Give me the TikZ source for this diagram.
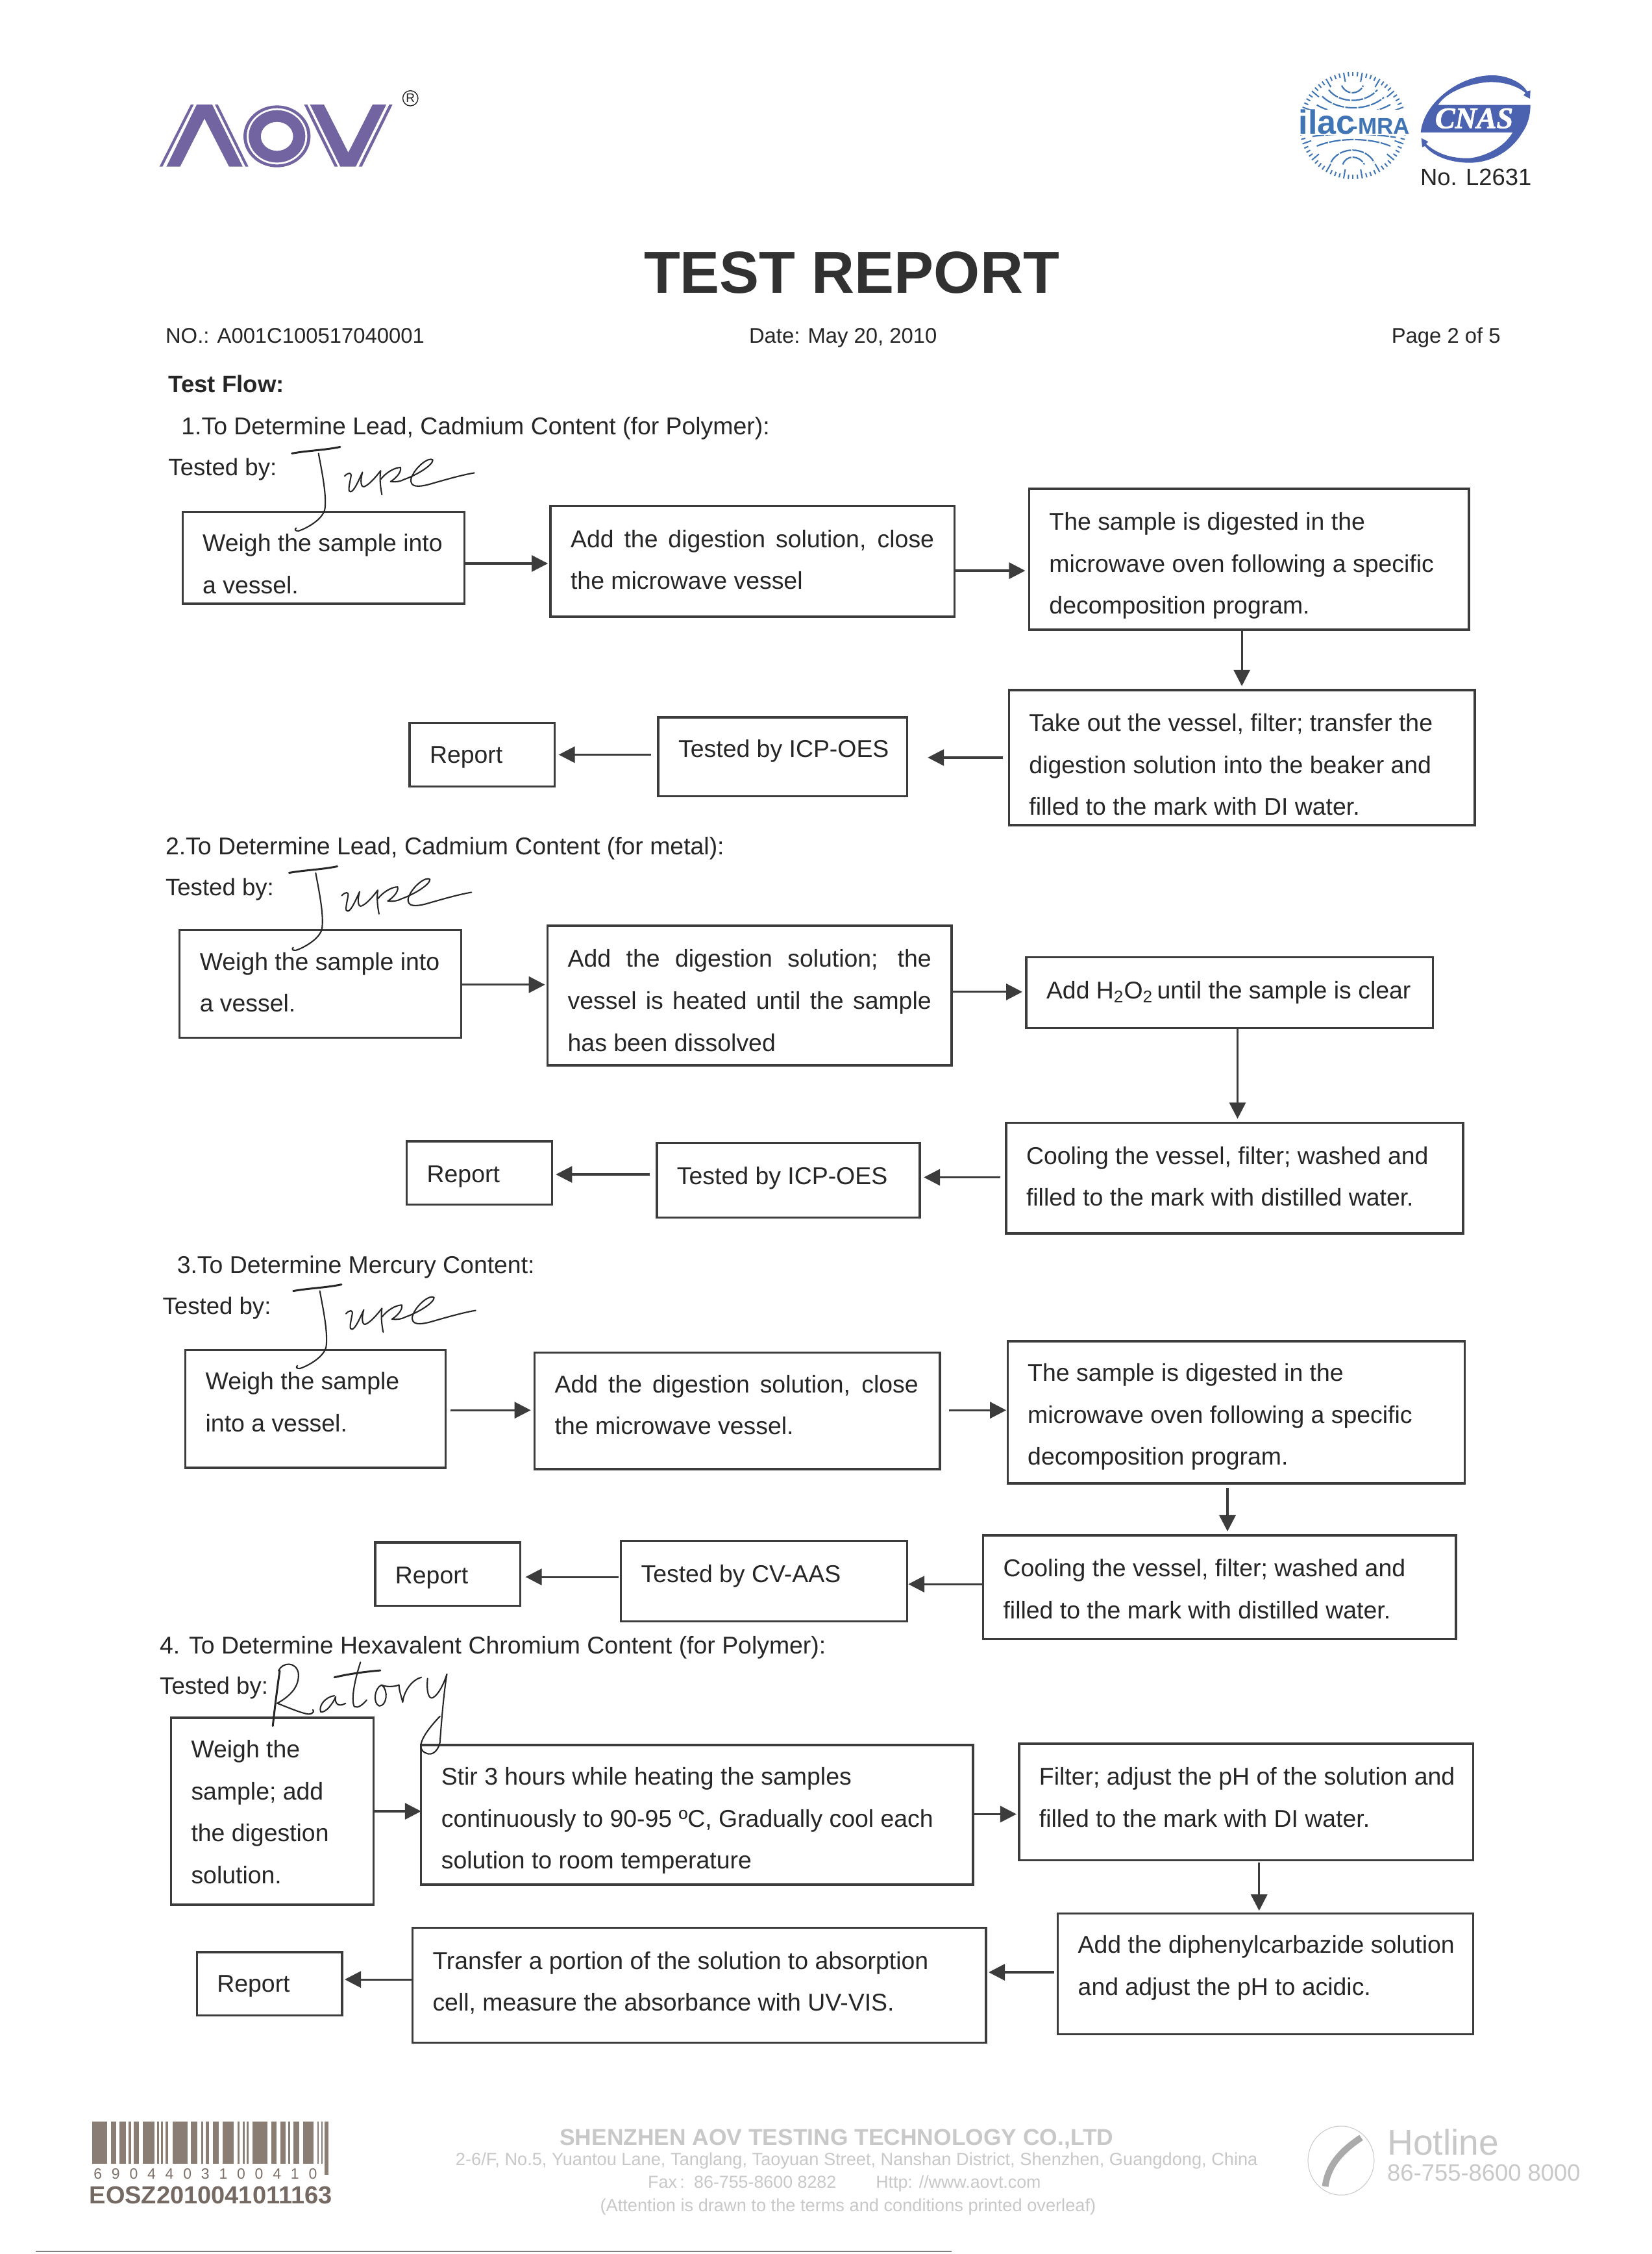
\documentclass[tikz,border=0pt]{standalone}
\usepackage{fontspec}
\setmainfont{Liberation Sans}
\newfontfamily\serifbi{Liberation Serif}[BoldItalicFeatures={FakeBold=1.6}]
\usetikzlibrary{arrows.meta}
\definecolor{ink}{HTML}{262626}
\definecolor{line}{HTML}{3C3C3C}
\definecolor{logop}{HTML}{7264A0}
\definecolor{ilacb}{HTML}{3F74B5}
\definecolor{cnasb}{HTML}{4A62B0}
\definecolor{foot}{HTML}{C8C8C8}
\definecolor{barc}{HTML}{8A7D74}
\newcommand\fsz[1]{\fontsize{#1}{#1}\selectfont}
\tikzset{
  x=1.107pt,y=-1.107pt,
  flow/.style={draw=line,line width=1.7pt,inner sep=0pt,outer sep=0pt,text=ink,font=\fsz{18.7},anchor=north west},
  arr/.style={draw=line,line width=1.6pt,-{Triangle[length=12.5pt,width=12.5pt]}},
  lbl/.style={anchor=base west,inner sep=0pt,text=ink,font=\fsz{18.7}},
  head/.style={anchor=base west,inner sep=0pt,text=ink,font=\fsz{16.4}},
  ftxt/.style={anchor=base,inner sep=0pt,text=foot},
  ink line/.style={draw=ink,line width=1.05pt,line cap=round,line join=round},
  zoomB/.style={x=.19133pt,y=-.16667pt},
  zoomC/.style={x=.16667pt,y=-.16667pt},
}
% name x0 y0 x1 y1 firstlinecentre text
\newcommand\flowbox[7]{%
  \pgfmathsetlengthmacro\bw{(#4-#2)*1.107pt}%
  \pgfmathsetlengthmacro\bh{(#5-#3)*1.107pt}%
  \pgfmathsetlengthmacro\boff{(#6+5.8-#3)*1.107pt-14pt}%
  \node[flow] (#1) at (#2,#3) {\parbox[c][\bh][t]{\bw}{\raggedright\leftskip=15.5pt\baselineskip=32.3pt\parindent=0pt\vspace*{\boff}\leavevmode\rule{0pt}{14pt}#7}};%
}
\newcommand\sgn[2]{%
  \begin{scope}[xshift=#1,yshift=#2,zoomB]
    \draw[ink line,line width=1.5pt] (548,85) .. controls (610,72) and (680,70) .. (742,55);
    \draw[ink line] (655,85) .. controls (665,150) and (690,280) .. (680,345) .. controls (670,390) and (610,430) .. (575,443) .. controls (560,445) and (558,435) .. (565,430);
    \draw[ink line] (760,190) .. controls (775,172) and (790,170) .. (785,195) .. controls (778,235) and (772,265) .. (785,262) .. controls (800,258) and (820,200) .. (832,172) .. controls (822,210) and (825,245) .. (840,238) .. controls (860,228) and (885,195) .. (905,165) .. controls (900,205) and (905,245) .. (910,275);
    \draw[ink line] (905,205) .. controls (925,175) and (960,150) .. (985,150) .. controls (990,175) and (960,205) .. (945,215) .. controls (965,218) and (985,215) .. (1000,205) .. controls (1050,185) and (1115,140) .. (1115,115) .. controls (1100,100) and (1045,145) .. (1028,200) .. controls (1020,245) and (1060,240) .. (1100,228) .. controls (1170,205) and (1230,185) .. (1282,175);
  \end{scope}%
}
\begin{document}
\begin{tikzpicture}
\useasboundingbox[fill=white] (0,0) rectangle (1149,1568);

% AOV logo
\begin{scope}[xshift=75pt,yshift=-40pt,zoomB]
  \fill[logop] (250,530)--(262,530)--(388,243)--(376,243)--cycle;
  \fill[logop] (278,530)--(333,530)--(431,308)--(530,530)--(585,530)--(462,243)--(400,243)--cycle;
  \fill[logop] (473,243)--(485,243)--(608,530)--(596,530)--cycle;
  \fill[logop,even odd rule] (723,390) ellipse [x radius=135,y radius=143] (723,390) ellipse [x radius=122,y radius=130];
  \fill[logop,even odd rule] (723,390) ellipse [x radius=114,y radius=121] (723,390) ellipse [x radius=65,y radius=67];
  \fill[logop] (832,243)--(845,243)--(968,530)--(955,530)--cycle;
  \fill[logop] (856,243)--(912,243)--(1010,465)--(1108,243)--(1163,243)--(1040,530)--(978,530)--cycle;
  \fill[logop] (1175,243)--(1188,243)--(1065,530)--(1052,530)--cycle;
  \node[draw=ink,circle,line width=.7pt,inner sep=.8pt,text=ink,font=\fsz{9.5}] (regmark) at (1260,214) {R};
\end{scope}

% ilac-MRA and CNAS
\begin{scope}[xshift=950pt,yshift=-40pt,zoomC]
  \foreach \a in {0,5,...,355}{\draw[ilacb,line width=1pt] (552,340)++(\a:228) -- ++(\a:20);}
  \foreach \a in {0,20,...,340}{\draw[ilacb,line width=1pt] (552,340)++(\a:205) -- ++(\a:25);}
  \begin{scope}[ilacb,line width=1.1pt,dash pattern=on 9pt off 1pt]
    \draw (500,155) .. controls (520,200) and (580,200) .. (600,155);
    \draw (440,175) .. controls (490,240) and (610,240) .. (665,175);
    \draw (410,205) .. controls (480,275) and (620,275) .. (695,210);
    \draw (385,245) .. controls (480,300) and (630,300) .. (730,240);
    \draw (505,520) .. controls (520,475) and (580,475) .. (605,520);
    \draw (450,510) .. controls (490,435) and (610,435) .. (650,510);
    \draw (385,435) .. controls (480,395) and (630,395) .. (725,435);
    \draw (365,390) .. controls (480,375) and (630,375) .. (750,395);
  \end{scope}
  \fill[white] (300,268) rectangle (805,385);
  \node[anchor=base west,inner sep=0pt,text=ilacb,font=\fsz{26}\bfseries] (ilactxt) at (300,380) {ilac};
  \node[anchor=base west,inner sep=0pt,text=ilacb,font=\fsz{17.5}\bfseries] (mratxt) at (540,380) {-MRA};
  \fill[cnasb] (865,372) .. controls (880,230) and (1050,105) .. (1200,108) .. controls (1280,110) and (1340,150) .. (1356,182) -- (1372,178) -- (1370,216) -- (1340,200) -- (1350,190) .. controls (1310,155) and (1240,135) .. (1170,140) .. controls (1070,150) and (980,190) .. (945,245) -- (1372,245) .. controls (1372,300) and (1355,345) .. (1335,372) -- cycle;
  \fill[cnasb] (1290,372) -- (1335,372) .. controls (1290,450) and (1200,512) .. (1090,512) .. controls (1000,512) and (920,480) .. (885,435) -- (872,440) -- (868,398) -- (900,415) -- (890,425) .. controls (950,480) and (1030,495) .. (1100,490) .. controls (1190,475) and (1260,425) .. (1290,372) -- cycle;
  \node[anchor=base,inner sep=0pt,text=white,font=\serifbi\fsz{23}\bfseries\itshape] (cnastxt) at (1112,352) {CNAS};
  \node[anchor=base west,inner sep=0pt,text=ink,font=\fsz{18.2}] (cnasno) at (862,615) {No. L2631};
\end{scope}

% headings
\node[anchor=base,inner sep=0pt,text=ink!95,font=\fsz{45.7}\bfseries] (title) at (592.5,204) {TEST REPORT};
\node[head] (reportno) at (115,238.5) {NO.: A001C100517040001};
\node[head] (reportdate) at (521,238.5) {Date: May 20, 2010};
\node[head] (reportpage) at (968,238.5) {Page 2 of 5};
\node[lbl,font=\fsz{18.3}\bfseries] (flowtitle) at (117,273) {Test Flow:};

% section 1
\node[lbl] (s1) at (126,302.5) {1.To Determine Lead, Cadmium Content (for Polymer):};
\node[lbl,font=\fsz{18.3}] (t1) at (117,331) {Tested by:};
\flowbox{a1}{127}{356}{323}{420}{378}{Weigh the sample into\\a vessel.}
\flowbox{a2}{383}{352}{664}{429}{375}{\makebox[280pt][s]{Add the digestion solution, close}\\the microwave vessel}
\flowbox{a3}{716}{340}{1022}{438}{363}{The sample is digested in the\\microwave oven following a specific\\decomposition program.}
\flowbox{a4}{702}{480}{1026}{574}{503}{Take out the vessel, filter; transfer the\\digestion solution into the beaker and\\filled to the mark with DI water.}
\flowbox{a5}{458}{499}{631}{554}{521}{Tested by ICP-OES}
\flowbox{a6}{285}{503}{386}{547}{525}{Report}
\draw[arr,shorten >=2pt] (a1.east |- 0,392) -- (a2.west |- 0,392);
\draw[arr,shorten >=3pt] (a2.east |- 0,397) -- (a3.west |- 0,397);
\draw[arr,shorten >=3pt] (864,0 |- a3.south) -- (864,0 |- a4.north);
\draw[arr,shorten <=4.5pt,shorten >=16pt] (a4.west |- 0,527) -- (a5.east |- 0,527);
\draw[arr,shorten <=5.5pt,shorten >=3pt] (a5.west |- 0,525) -- (a6.east |- 0,525);

% section 2
\node[lbl] (s2) at (115,594.5) {2.To Determine Lead, Cadmium Content (for metal):};
\node[lbl,font=\fsz{18.3}] (t2) at (115,623) {Tested by:};
\flowbox{b1}{125}{647}{321}{722}{669}{Weigh the sample into\\a vessel.}
\flowbox{b2}{381}{644}{662}{741}{667}{\makebox[280pt][s]{Add the digestion solution; the}\\\makebox[280pt][s]{vessel is heated until the sample}\\has been dissolved}
\flowbox{b3}{714}{666}{997}{715}{689}{Add H\textsubscript{2}O\textsubscript{2}\hspace{-2pt} until the sample is clear}
\flowbox{b4}{700}{781}{1018}{858}{804}{Cooling the vessel, filter; washed and\\filled to the mark with distilled water.}
\flowbox{b5}{457}{795}{640}{847}{818}{Tested by ICP-OES}
\flowbox{b6}{283}{794}{384}{838}{817}{Report}
\draw[arr,shorten >=2pt] (b1.east |- 0,685) -- (b2.west |- 0,685);
\draw[arr,shorten >=3pt] (b2.east |- 0,690) -- (b3.west |- 0,690);
\draw[arr,shorten >=3pt] (861,0 |- b3.south) -- (861,0 |- b4.north);
\draw[arr,shorten <=4.5pt,shorten >=3pt] (b4.west |- 0,819) -- (b5.east |- 0,819);
\draw[arr,shorten <=5.5pt,shorten >=3pt] (b5.west |- 0,817) -- (b6.east |- 0,817);

% section 3
\node[lbl] (s3) at (123,886) {3.To Determine Mercury Content:};
\node[lbl,font=\fsz{18.3}] (t3) at (113,914.5) {Tested by:};
\flowbox{c1}{129}{939}{310}{1021}{961}{Weigh the sample\\into a vessel.}
\flowbox{c2}{372}{941}{654}{1022}{963}{\makebox[280pt][s]{Add the digestion solution, close}\\the microwave vessel.}
\flowbox{c3}{701}{933}{1019}{1032}{955}{The sample is digested in the\\microwave oven following a specific\\decomposition program.}
\flowbox{c4}{684}{1068}{1013}{1140}{1091}{Cooling the vessel, filter; washed and\\filled to the mark with distilled water.}
\flowbox{c5}{432}{1072}{631}{1128}{1095}{Tested by CV-AAS}
\flowbox{c6}{261}{1073}{362}{1117}{1096}{Report}
\draw[arr,shorten <=4pt,shorten >=3pt] (c1.east |- 0,981) -- (c2.west |- 0,981);
\draw[arr,shorten <=7pt,shorten >=1pt] (c2.east |- 0,981) -- (c3.west |- 0,981);
\draw[arr,shorten <=3.5pt,shorten >=3pt] (854,0 |- c3.south) -- (854,0 |- c4.north);
\draw[arr,shorten >=1pt] (c4.west |- 0,1102) -- (c5.east |- 0,1102);
\draw[arr,shorten <=2pt,shorten >=4pt] (c5.west |- 0,1097) -- (c6.east |- 0,1097);

% section 4
\node[lbl] (s4) at (111,1150.5) {4. To Determine Hexavalent Chromium Content (for Polymer):};
\node[lbl,font=\fsz{18.3}] (t4) at (111,1178.5) {Tested by:};
\flowbox{d1}{119}{1195}{260}{1325}{1217}{Weigh the\\sample; add\\the digestion\\solution.}
\flowbox{d2}{293}{1214}{677}{1311}{1236}{Stir 3 hours while heating the samples\\continuously to 90-95 ºC, Gradually cool each\\solution to room temperature}
\flowbox{d3}{709}{1213}{1025}{1294}{1236}{Filter; adjust the pH of the solution and\\filled to the mark with DI water.}
\flowbox{d4}{736}{1331}{1025}{1415}{1353}{Add the diphenylcarbazide solution\\and adjust the pH to acidic.}
\flowbox{d5}{287}{1341}{686}{1421}{1364}{Transfer a portion of the solution to absorption\\cell, measure the absorbance with UV-VIS.}
\flowbox{d6}{137}{1358}{238}{1402}{1380}{Report}
\draw[arr] (d1.east |- 0,1260) -- (d2.west |- 0,1260);
\draw[arr,shorten >=2pt] (d2.east |- 0,1262) -- (d3.west |- 0,1262);
\draw[arr,shorten <=2pt,shorten >=2pt] (876,0 |- d3.south) -- (876,0 |- d4.north);
\draw[arr,shorten <=3pt,shorten >=2pt] (d4.west |- 0,1372) -- (d5.east |- 0,1372);
\draw[arr,shorten >=2pt] (d5.west |- 0,1377) -- (d6.east |- 0,1377);

% signatures
\sgn{120pt}{-335pt}
\sgn{117.8pt}{-658pt}
\sgn{121pt}{-980pt}
\begin{scope}[xshift=115pt,yshift=-1270pt,zoomB]
  \draw[ink line,line width=1.5pt] (525,100) .. controls (515,180) and (505,270) .. (497,355);
  \draw[ink line] (520,100) .. controls (535,60) and (590,55) .. (600,110) .. controls (605,170) and (570,215) .. (515,250) .. controls (560,270) and (610,295) .. (640,300) .. controls (660,300) and (665,285) .. (658,280);
  \draw[ink line] (745,215) .. controls (710,220) and (680,260) .. (690,290) .. controls (710,295) and (740,250) .. (750,220) .. controls (745,250) and (760,270) .. (790,250);
  \draw[ink line] (850,60) .. controls (830,130) and (810,230) .. (825,265) .. controls (840,275) and (860,255) .. (875,235);
  \draw[ink line,line width=1.5pt] (745,130) .. controls (800,115) and (860,105) .. (930,98);
  \draw[ink line] (935,165) .. controls (905,180) and (900,250) .. (925,262) .. controls (955,265) and (965,190) .. (935,165) .. controls (950,175) and (985,175) .. (1005,165) .. controls (1005,190) and (1015,220) .. (1020,245) .. controls (1025,190) and (1060,140) .. (1095,130);
  \draw[ink line] (1120,135) .. controls (1115,200) and (1125,230) .. (1140,225) .. controls (1165,210) and (1185,160) .. (1198,115) .. controls (1185,200) and (1175,350) .. (1170,430) .. controls (1160,480) and (1130,500) .. (1100,470) .. controls (1075,440) and (1120,370) .. (1170,310);
\end{scope}

% barcode
\foreach \a/\b in {55/85,93/103,110/123,128/133,138/149,157/180,186/189,193/197,202/208,217/247,254/267,274/278,284/290,298/310,318/340,348/352,358/362,366/370,378/408,416/426,434/444,450/454,460/472,480/501,508/511,516/519}
  \fill[barc] ({45.17+\a*.3456},1476) rectangle ({45.17+\b*.3456},1505);
\fill[barc] ({45.17+523*.3456},1476) rectangle ({45.17+530*.3456},1513);
\node[anchor=base west,inner sep=0pt,text=barc!90!black,font=\fsz{11.5}] (bardigits) at (65,1516) {\makebox[172pt][s]{6 9 0 4 4 0 3 1 0 0 4 1 0}};
\node[anchor=base west,inner sep=0pt,text=barc!85!black,font=\fsz{19}\bfseries] (barcodeid) at (62,1533) {EOSZ2010041011163};

% footer
\node[ftxt,font=\fsz{17.7}\bfseries] (fa) at (582,1492.5) {SHENZHEN AOV TESTING TECHNOLOGY CO.,LTD};
\node[ftxt,font=\fsz{13.6}] (fb) at (596,1506.5) {2-6/F, No.5, Yuantou Lane, Tanglang, Taoyuan Street, Nanshan District, Shenzhen, Guangdong, China};
\node[ftxt,font=\fsz{13.4}] (fc) at (587.5,1522) {Fax\,: \,86-755-8600 8282\qquad\ Http: //www.aovt.com};
\node[ftxt,font=\fsz{13.6}] (fd) at (590,1538.5) {(Attention is drawn to the terms and conditions printed overleaf)};
\node[anchor=base west,inner sep=0pt,text=foot,font=\fsz{27.6}] (fe) at (965,1499) {Hotline};
\node[anchor=base west,inner sep=0pt,text=foot,font=\fsz{18.2}] (ff) at (965,1517) {86-755-8600 8000};
\draw[foot,line width=.5pt] (933,1503) ellipse [x radius=23,y radius=24];
\draw[foot!85!black,line width=5pt] (922,1521) .. controls (924,1505) and (935,1495) .. (947,1487);
\draw[gray,line width=1pt] (25,1566) -- (662,1566);
\end{tikzpicture}
\end{document}
